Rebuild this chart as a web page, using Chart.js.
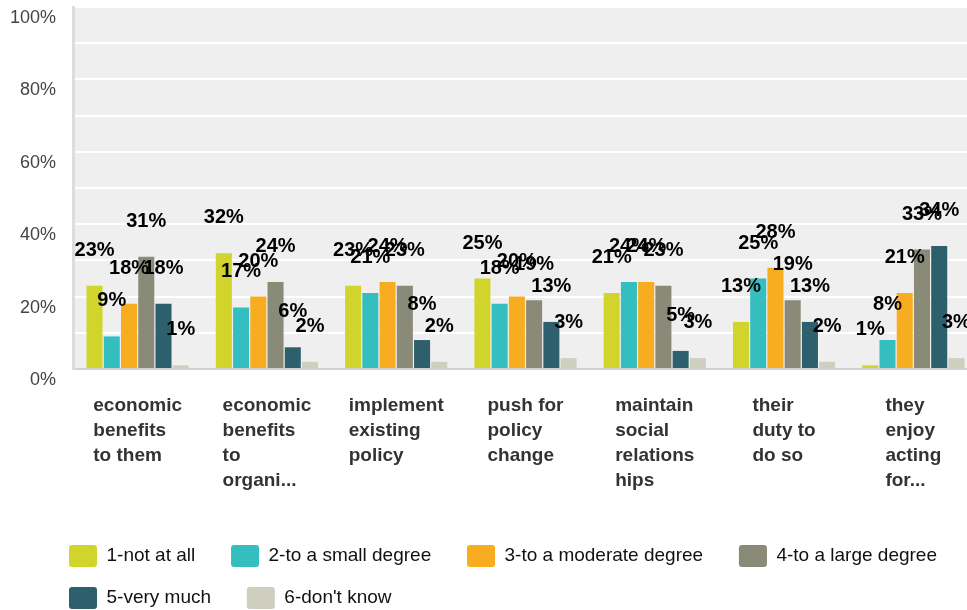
<!DOCTYPE html>
<html>
<head>
<meta charset="utf-8">
<title>Reasons for acting</title>
<script src="https://cdn.jsdelivr.net/npm/chart.js@4.4.1/dist/chart.umd.min.js"></script>
<style>
  html, body { margin: 0; padding: 0; background: #fff; }
  #wrap { width: 967px; height: 610px; overflow: hidden; position: relative; }
  #chart { display: block; }
</style>
</head>
<body>
<div id="wrap">
  <canvas id="chart" width="978" height="619"></canvas>
</div>
<script>
// categories, one entry per line of the axis label
const categories = [
    ['economic', 'benefits', 'to them'],
    ['economic', 'benefits', 'to', 'organi...'],
    ['implement', 'existing', 'policy'],
    ['push for', 'policy', 'change'],
    ['maintain', 'social', 'relations', 'hips'],
    ['their', 'duty to', 'do so'],
    ['they', 'enjoy', 'acting', 'for...']
];

const seriesNames = ['1-not at all', '2-to a small degree', '3-to a moderate degree',
    '4-to a large degree', '5-very much', "6-don't know"];

// percentages per category
const notAtAll       = [23, 32, 23, 25, 21, 13, 1];
const smallDegree    = [9, 17, 21, 18, 24, 25, 8];
const moderateDegree = [18, 20, 24, 20, 24, 28, 21];
const largeDegree    = [31, 24, 23, 19, 23, 19, 33];
const veryMuch       = [18, 6, 8, 13, 5, 13, 34];
const dontKnow       = [1, 2, 2, 3, 3, 2, 3];

const yTicks = [0, 20, 40, 60, 80, 100];

const COLORS = ['#d0d42b', '#35bec0', '#f7ad1f', '#8a8a78', '#2e5f6c', '#cfcfc0'];
const FONT = "'Liberation Sans', Arial, sans-serif";

Chart.defaults.font.family = FONT;

// grey plot area
const plotBackground = {
    id: 'plotBackground',
    beforeDraw(chart) {
        const {ctx, chartArea: a} = chart;
        ctx.save();
        ctx.fillStyle = '#efefef';
        ctx.fillRect(a.left, a.top, a.right - a.left, a.bottom - a.top);
        ctx.restore();
    }
};

// value labels above each bar
const valueLabels = {
    id: 'valueLabels',
    afterDatasetsDraw(chart) {
        const {ctx} = chart;
        ctx.save();
        ctx.font = 'bold 20px ' + FONT;
        ctx.fillStyle = '#000';
        ctx.textAlign = 'center';
        ctx.textBaseline = 'alphabetic';
        chart.data.datasets.forEach((ds, i) => {
            chart.getDatasetMeta(i).data.forEach((bar, j) => {
                ctx.fillText(ds.data[j] + '%', bar.x, bar.y - 30);
            });
        });
        ctx.restore();
    }
};

// category labels: block centred on the tick, lines left aligned
const categoryLabels = {
    id: 'categoryLabels',
    afterDraw(chart) {
        const {ctx, chartArea} = chart;
        const xScale = chart.scales.x;
        ctx.save();
        ctx.font = 'bold 19px ' + FONT;
        ctx.fillStyle = '#333';
        ctx.textAlign = 'left';
        ctx.textBaseline = 'alphabetic';
        categories.forEach((lines, i) => {
            const cx = xScale.getPixelForValue(i);
            const w = Math.max(...lines.map(l => ctx.measureText(l).width));
            lines.forEach((line, k) => {
                ctx.fillText(line, cx - w / 2, chartArea.bottom + 42 + k * 25);
            });
        });
        ctx.restore();
    }
};

// legend rows start under the plot's left edge rather than at the canvas edge
const legendIndent = {
    id: 'legendIndent',
    afterLayout(chart) {
        chart.legend.left += 41;
        chart.legend.right += 41;
    }
};

const series = [notAtAll, smallDegree, moderateDegree, largeDegree, veryMuch, dontKnow];

new Chart(document.getElementById('chart'), {
    type: 'bar',
    data: {
        labels: categories,
        datasets: series.map((values, i) => ({
            label: seriesNames[i],
            data: values,
            backgroundColor: COLORS[i],
            borderWidth: 0,
            categoryPercentage: 0.8,
            barPercentage: 0.93
        }))
    },
    options: {
        responsive: false,
        animation: false,
        events: [],
        layout: { padding: { left: 8, top: 7, right: 0, bottom: 0 } },
        scales: {
            x: {
                grid: { display: false },
                border: { color: '#d2d2d2', width: 2 },
                ticks: { display: false },
                afterFit(scale) {
                    scale.height = 156;
                    scale.paddingLeft = 0;
                    scale.paddingRight = 0;
                }
            },
            y: {
                min: 0,
                max: 100,
                grid: { color: '#ffffff', lineWidth: 2, drawTicks: false },
                border: { color: '#dddddd', width: 3 },
                ticks: {
                    stepSize: 10,
                    padding: 17,
                    labelOffset: 11,
                    color: '#444',
                    font: { size: 18 },
                    callback: v => yTicks.includes(v) ? v + '%' : ''
                },
                afterFit(scale) {
                    scale.width = 65;
                    scale.paddingTop = 0;
                    scale.paddingBottom = 0;
                }
            }
        },
        plugins: {
            tooltip: { enabled: false },
            legend: {
                position: 'bottom',
                align: 'start',
                labels: {
                    boxWidth: 28,
                    boxHeight: 22,
                    padding: 20,
                    useBorderRadius: true,
                    borderRadius: 3,
                    color: '#111',
                    font: { size: 19 },
                    // trailing spaces widen the gap to the next item in the row
                    generateLabels(chart) {
                        const items = Chart.defaults.plugins.legend.labels.generateLabels(chart);
                        items.forEach((item, i) => {
                            if (i !== 3 && i !== items.length - 1) item.text += '   ';
                        });
                        return items;
                    }
                }
            }
        }
    },
    plugins: [plotBackground, valueLabels, categoryLabels, legendIndent]
});
</script>
</body>
</html>
